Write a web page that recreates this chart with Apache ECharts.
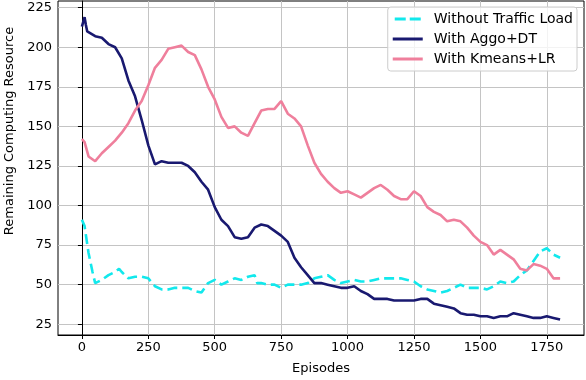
<!DOCTYPE html>
<html>
<head>
<meta charset="utf-8">
<script src="https://cdn.jsdelivr.net/npm/echarts@6/dist/echarts.min.js"></script>
<style>
  html, body { margin: 0; padding: 0; background: #fff; }
  #chart { width: 586px; height: 380px; }
</style>
</head>
<body>
<div id="chart"></div>
<script>
// tick labels
const xTicks = [0, 250, 500, 750, 1000, 1250, 1500, 1750];
const yTicks = [25, 50, 75, 100, 125, 150, 175, 200, 225];

// Without Traffic Load
const cyanEp = [0, 10, 25, 40, 50, 75, 100, 125, 140, 150, 175, 200, 225, 250, 275, 300, 325, 350, 375, 400, 425, 450, 475, 500, 525, 550, 575, 600, 625, 650, 660, 675, 700, 725, 750, 775, 800, 825, 850, 875, 900, 925, 950, 975, 1000, 1025, 1050, 1075, 1100, 1125, 1150, 1175, 1200, 1225, 1250, 1275, 1300, 1325, 1350, 1375, 1400, 1425, 1450, 1475, 1500, 1525, 1550, 1575, 1600, 1625, 1650, 1675, 1700, 1725, 1750, 1775, 1800];
const cyanVal = [91, 87, 70, 58, 51, 53, 56, 58, 60, 58, 54, 55, 55, 54, 49, 47, 47, 48, 48, 48, 46, 45, 51, 53, 50, 52, 54, 53, 55, 56, 51, 51, 50, 50, 48, 50, 50, 50, 51, 54, 55, 56, 53, 51, 52, 53, 52, 52, 53, 54, 54, 54, 54, 53, 52, 49, 47, 46, 45, 46, 48, 50, 48, 48, 48, 47, 49, 52, 51, 52, 56, 59, 65, 71, 73, 69, 67];

// With Aggo+DT
const navyEp = [0, 5, 10, 15, 20, 25, 50, 75, 100, 125, 150, 175, 200, 225, 250, 275, 300, 325, 350, 375, 400, 425, 450, 475, 500, 525, 550, 575, 600, 625, 650, 675, 700, 725, 750, 775, 800, 825, 850, 875, 900, 925, 950, 975, 1000, 1025, 1050, 1075, 1100, 1125, 1150, 1175, 1200, 1225, 1250, 1275, 1300, 1325, 1350, 1375, 1400, 1425, 1450, 1475, 1500, 1525, 1550, 1575, 1600, 1625, 1650, 1675, 1700, 1725, 1750, 1775, 1800];
const navyVal = [213, 216, 219, 214, 210, 209, 207, 206, 202, 200, 193, 179, 169, 154, 138, 126, 128, 127, 127, 127, 125, 121, 115, 110, 99, 91, 87, 80, 79, 80, 86, 88, 87, 84, 81, 77, 67, 61, 56, 51, 51, 50, 49, 48, 48, 49, 46, 44, 41, 41, 41, 40, 40, 40, 40, 41, 41, 38, 37, 36, 35, 32, 31, 31, 30, 30, 29, 30, 30, 32, 31, 30, 29, 29, 30, 29, 28];

// With Kmeans+LR
const pinkEp = [0, 10, 25, 50, 75, 100, 125, 150, 175, 200, 225, 250, 275, 300, 325, 350, 375, 400, 425, 450, 475, 500, 525, 550, 575, 600, 625, 650, 675, 700, 725, 750, 775, 800, 825, 850, 875, 900, 925, 950, 975, 1000, 1025, 1050, 1075, 1100, 1125, 1150, 1175, 1200, 1225, 1250, 1275, 1300, 1325, 1350, 1375, 1400, 1425, 1450, 1475, 1500, 1525, 1550, 1575, 1600, 1625, 1650, 1675, 1700, 1725, 1750, 1775, 1800];
const pinkVal = [142, 140, 131, 128, 133, 137, 141, 146, 152, 160, 166, 176, 187, 192, 199, 200, 201, 197, 195, 186, 175, 167, 156, 149, 150, 146, 144, 152, 160, 161, 161, 166, 158, 155, 150, 138, 127, 120, 115, 111, 108, 109, 107, 105, 108, 111, 113, 110, 106, 104, 104, 109, 106, 99, 96, 94, 90, 91, 90, 86, 81, 77, 75, 69, 72, 69, 66, 60, 59, 63, 62, 60, 54, 54];

const pairs = (xs, ys) => xs.map((x, i) => [x, ys[i]]);

const chart = echarts.init(document.getElementById('chart'));
const font = 'DejaVu Sans';

// legend icons drawn as plain line samples (dashed one as two dashes)
const solidIcon = 'path://M0,0h30v3h-30z';
const dashIcon = 'path://M0,0h11v3h-11zM15,0h11v3h-11z';

chart.setOption({
  animation: false,
  grid: {
    left: 58, right: 2, top: 1, bottom: 45,
    outerBoundsMode: 'none',
    containLabel: false,
    show: true, borderColor: '#000', borderWidth: 1,
  },
  legend: {
    orient: 'vertical',
    right: 9,
    top: 7,
    itemWidth: 30,
    itemHeight: 3,
    itemGap: 6,
    padding: [5, 4, 5, 5],
    borderColor: '#cccccc',
    borderWidth: 1,
    borderRadius: 3,
    backgroundColor: 'rgba(255,255,255,0.8)',
    textStyle: { fontFamily: font, fontSize: 14, color: '#000', padding: [0, 0, 0, 6] },
    data: [
      { name: 'Without Traffic Load', icon: dashIcon },
      { name: 'With Aggo+DT', icon: solidIcon },
      { name: 'With Kmeans+LR', icon: solidIcon },
    ],
  },
  xAxis: {
    type: 'value',
    min: -90,
    max: 1890,
    name: 'Episodes',
    nameLocation: 'middle',
    nameGap: 27,
    nameTextStyle: { fontFamily: font, fontSize: 13, color: '#000' },
    axisLine: { lineStyle: { color: '#000', width: 1 } },
    axisTick: { customValues: xTicks, length: 4, lineStyle: { color: '#000' } },
    axisLabel: {
      customValues: xTicks, fontFamily: font, fontSize: 13, color: '#000', margin: 6,
      formatter: (v) => String(v),
    },
    splitLine: { show: true, lineStyle: { color: '#c4c4c4', width: 1 } },
  },
  yAxis: {
    type: 'value',
    min: 18.2,
    max: 229.2,
    name: 'Remaining Computing Resource',
    nameLocation: 'middle',
    nameGap: 37,
    nameTextStyle: { fontFamily: font, fontSize: 13, color: '#000', padding: [0, 0, 0, 74] },
    axisLine: { show: true, lineStyle: { color: '#000', width: 1 } },
    axisTick: { show: true, customValues: yTicks, length: 4, lineStyle: { color: '#000' } },
    axisLabel: {
      customValues: yTicks, fontFamily: font, fontSize: 13, color: '#000', margin: 6,
      formatter: (v) => String(v),
    },
    splitLine: { show: true, lineStyle: { color: '#c4c4c4', width: 1 } },
  },
  series: [
    {
      name: 'Without Traffic Load',
      type: 'line',
      data: pairs(cyanEp, cyanVal),
      showSymbol: false,
      symbol: 'none',
      color: '#12e8ec',
      lineStyle: { color: '#12e8ec', width: 2.6, type: [10, 5] },
      z: 3,
    },
    {
      name: 'With Aggo+DT',
      type: 'line',
      data: pairs(navyEp, navyVal),
      showSymbol: false,
      symbol: 'none',
      color: '#191970',
      lineStyle: { color: '#191970', width: 2.6 },
      z: 4,
    },
    {
      name: 'With Kmeans+LR',
      type: 'line',
      data: pairs(pinkEp, pinkVal),
      showSymbol: false,
      symbol: 'none',
      color: '#ef7f9c',
      lineStyle: { color: '#ef7f9c', width: 2.6 },
      z: 5,
    },
  ],
});

window.addEventListener('resize', function () {
  chart.resize();
});
</script>
</body>
</html>
